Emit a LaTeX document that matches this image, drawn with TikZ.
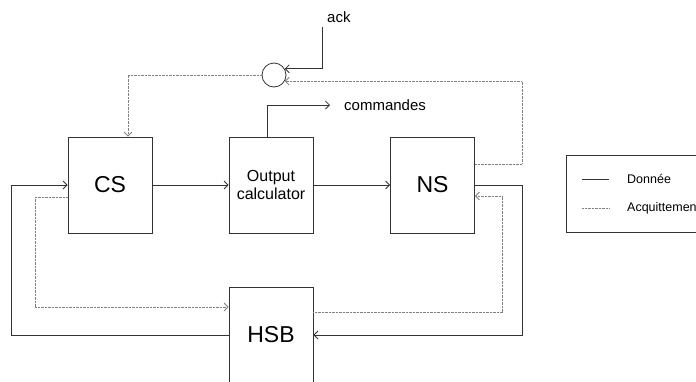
\documentclass[tikz,border=0pt]{standalone}
\usepackage{fontspec}
\setmainfont{Liberation Sans}
\usetikzlibrary{arrows.meta, positioning, calc}

\begin{document}
\begin{tikzpicture}[
  x=1pt, y=-1pt,
  block/.style={draw=black!80, line width=0.8pt, minimum width=84pt, minimum height=96pt, align=center, inner sep=0pt},
  lbl/.style={inner sep=0pt, font=\fontsize{15}{18}\selectfont},
  arrow/.style={-{Straight Barb[length=4pt, width=8pt]}, draw=black!80, line width=0.8pt},
  ackarrow/.style={arrow, draw=black!50, dash pattern=on 0.7pt off 0.7pt}
]
\useasboundingbox (0,0) rectangle (696,381);

% blocs
\node[block, font=\fontsize{23}{27}\selectfont] (cs) at (110,185) {CS};
\node[block, font=\fontsize{16}{18}\selectfont] (oc) at (271,185) {Output\\calculator};
\node[block, font=\fontsize{23}{27}\selectfont] (ns) at (432.5,185) {NS};
\node[block, font=\fontsize{23}{27}\selectfont] (hsb) at (271,335) {HSB};
\node[circle, draw=black!80, line width=0.8pt, minimum size=24pt, inner sep=0pt] (sum) at (274,75) {};

% textes
\node[lbl, anchor=west] (ack) at (327,17) {ack};
\node[lbl, anchor=west] (cmd) at (344,105) {commandes};
\coordinate (ackin) at (322,27);

% donnees
\draw[arrow] (cs) -- (oc);
\draw[arrow] (oc) -- (ns);
\draw[arrow] ([xshift=-4pt]oc.north) |- ([xshift=-14pt]cmd.west);
\draw[arrow] (ns.east) -- ++(47,0) |- (hsb.east);
\draw[arrow] (hsb.west) -- ++(-217,0) |- (cs.west);
\draw[arrow] (ackin) |- (sum.30);

% acquittements
\draw[ackarrow] ([yshift=-12pt]cs.west) -- ++(-32,0) |- ([yshift=28pt]hsb.west);
\draw[ackarrow] ([yshift=23pt]hsb.east) -- ++(189,0) |- ([yshift=-11pt]ns.east);
\draw[ackarrow] ([yshift=21pt]ns.east) -- ++(47,0) |- (sum.-30);
\draw[ackarrow] (sum.west) -| ([xshift=18pt]cs.north);

% legende
\node[draw=black!80, line width=0.8pt, minimum width=150pt, minimum height=77pt, anchor=north west] (legend) at (566,155) {};
\coordinate (l1) at ([xshift=16pt, yshift=-24pt]legend.north west);
\coordinate (l2) at ([xshift=16pt, yshift=-53pt]legend.north west);
\draw[draw=black!80, line width=0.8pt] (l1) -- ++(27,0);
\draw[draw=black!50, dash pattern=on 0.7pt off 0.7pt, line width=0.8pt] (l2) -- ++(27,0);
\node[lbl, anchor=west, font=\fontsize{12.5}{15}\selectfont] (donnee) at ([xshift=45pt]l1) {Donnée};
\node[lbl, anchor=west, font=\fontsize{12.5}{15}\selectfont] (acq) at ([xshift=45pt]l2) {Acquittement};

\end{tikzpicture}
\end{document}
